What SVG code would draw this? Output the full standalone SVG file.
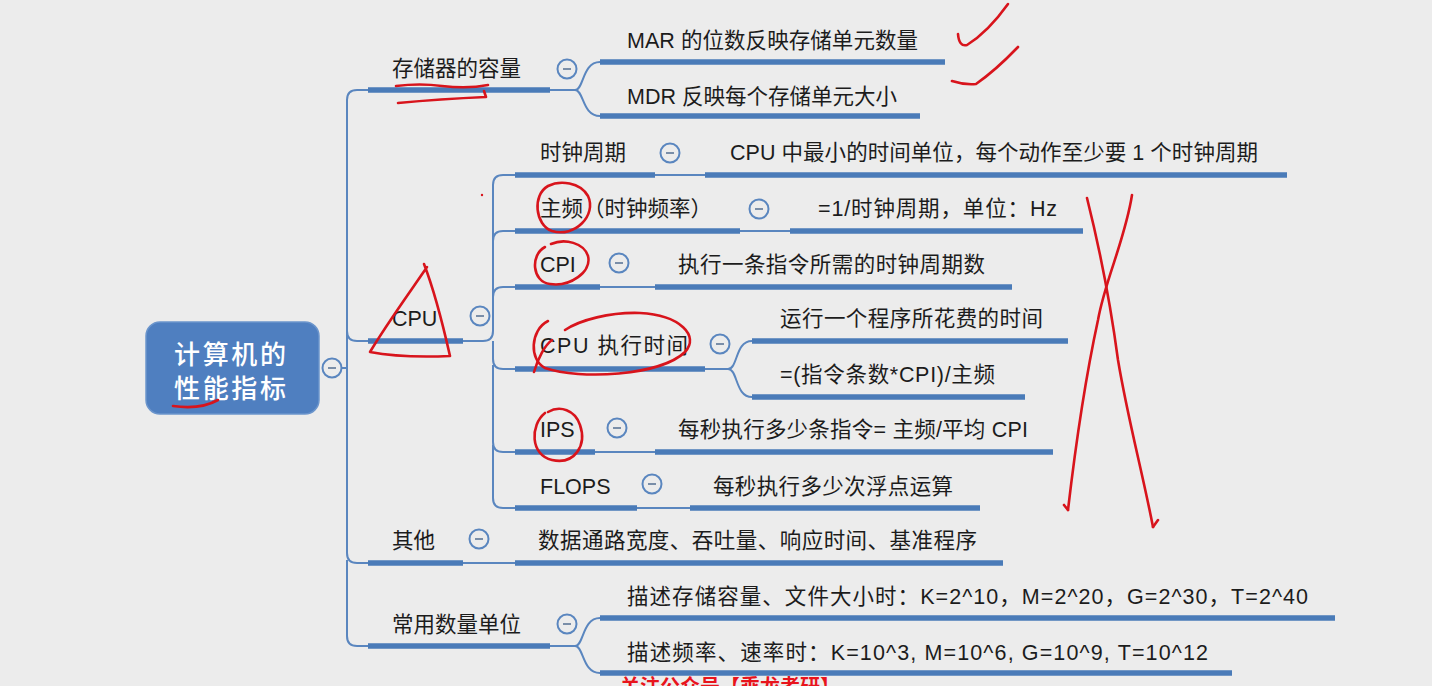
<svg xmlns="http://www.w3.org/2000/svg" width="1432" height="686" viewBox="0 0 1432 686">
<defs>
<style>
.t{font-family:"Liberation Sans","Noto Sans CJK SC",sans-serif;font-size:21.5px;fill:#1c1c1c;dominant-baseline:central}
.rt{font-family:"Noto Sans CJK SC","Liberation Sans",sans-serif;font-size:26px;fill:#ffffff;font-weight:500;dominant-baseline:central}
.ul{stroke:#4a7bb8;stroke-width:5.5;fill:none}
.cn{stroke:#5a86bf;stroke-width:2;fill:none}
.red{stroke:#d8141c;stroke-width:2.6;fill:none;stroke-linecap:round;stroke-linejoin:round}
</style>
<g id="minus"><circle r="9.5" fill="#ececec" stroke="#5a86bf" stroke-width="2"/><line x1="-4" y1="0" x2="4" y2="0" stroke="#7a8ea8" stroke-width="2"/></g>
</defs>
<rect width="1432" height="686" fill="#ececec"/>

<g id="connectors">
<path class="cn" d="M341 368 H347 V100 Q347 90 357 90 H368"/>
<path class="cn" d="M347 331 Q347 341 357 341 H368"/>
<path class="cn" d="M347 368 V553 Q347 563 357 563 H368"/>
<path class="cn" d="M347 560 V636 Q347 646 357 646 H368"/>
<path class="cn" d="M550 90 H575 C584 90 582 62 600 62"/>
<path class="cn" d="M575 90 C584 90 582 116 600 116"/>
<path class="cn" d="M463 341 H483 Q493 341 493 331 V185 Q493 175 503 175 H515"/>
<path class="cn" d="M493 241 Q493 231 503 231 H515"/>
<path class="cn" d="M493 297 Q493 287 503 287 H515"/>
<path class="cn" d="M493 341 V359 Q493 369 503 369 H515"/>
<path class="cn" d="M493 365 V442 Q493 452 503 452 H515"/>
<path class="cn" d="M493 445 V498 Q493 508 503 508 H515"/>
<path class="cn" d="M655 175 H705"/>
<path class="cn" d="M740 231 H790"/>
<path class="cn" d="M600 287 H655"/>
<path class="cn" d="M705 369 H728 C738 369 735 341 752 341"/>
<path class="cn" d="M728 369 C738 369 735 397 752 397"/>
<path class="cn" d="M595 452 H655"/>
<path class="cn" d="M637 508 H690"/>
<path class="cn" d="M463 563 H515"/>
<path class="cn" d="M550 646 H575 C584 646 582 618 600 618"/>
<path class="cn" d="M575 646 C584 646 582 673 600 673"/>
</g>

<g id="root">
<rect x="146" y="322" width="173" height="92" rx="14" fill="#4f7fc0" stroke="#6b95cc" stroke-width="1.5"/>
<text class="rt" x="174" y="352" textLength="112">计算机的</text>
<text class="rt" x="174" y="386" textLength="112">性能指标</text>
<use href="#minus" x="332" y="368"/>
</g>

<g id="n-storage">
<line class="ul" x1="368" y1="90" x2="550" y2="90"/>
<text class="t" x="392" y="69">存储器的容量</text>
<use href="#minus" x="567" y="69"/>
</g>
<g id="n-mar">
<line class="ul" x1="600" y1="62" x2="945" y2="62"/>
<text class="t" x="627" y="41" textLength="291">MAR 的位数反映存储单元数量</text>
</g>
<g id="n-mdr">
<line class="ul" x1="600" y1="116" x2="920" y2="116"/>
<text class="t" x="627" y="97" textLength="270">MDR 反映每个存储单元大小</text>
</g>

<g id="n-cpu">
<line class="ul" x1="368" y1="341" x2="463" y2="341"/>
<text class="t" x="392" y="319">CPU</text>
<use href="#minus" x="480" y="316"/>
</g>
<g id="n-clock">
<line class="ul" x1="515" y1="175" x2="655" y2="175"/>
<text class="t" x="540" y="153">时钟周期</text>
<use href="#minus" x="670" y="153"/>
</g>
<g id="n-clock-d">
<line class="ul" x1="705" y1="175" x2="1287" y2="175"/>
<text class="t" x="730" y="153" textLength="528">CPU 中最小的时间单位，每个动作至少要 1 个时钟周期</text>
</g>
<g id="n-freq">
<line class="ul" x1="515" y1="231" x2="740" y2="231"/>
<text class="t" x="540" y="209">主频（时钟频率）</text>
<use href="#minus" x="759" y="209"/>
</g>
<g id="n-freq-d">
<line class="ul" x1="790" y1="231" x2="1083" y2="231"/>
<text class="t" x="818" y="209" textLength="239">=1/时钟周期，单位：Hz</text>
</g>
<g id="n-cpi">
<line class="ul" x1="515" y1="287" x2="600" y2="287"/>
<text class="t" x="540" y="265">CPI</text>
<use href="#minus" x="619" y="263"/>
</g>
<g id="n-cpi-d">
<line class="ul" x1="655" y1="287" x2="1012" y2="287"/>
<text class="t" x="678" y="265" textLength="307">执行一条指令所需的时钟周期数</text>
</g>
<g id="n-time">
<line class="ul" x1="515" y1="369" x2="705" y2="369"/>
<text class="t" x="540" y="346" textLength="148">CPU 执行时间</text>
<use href="#minus" x="720" y="344"/>
</g>
<g id="n-time-a">
<line class="ul" x1="752" y1="341" x2="1068" y2="341"/>
<text class="t" x="780" y="319" textLength="263">运行一个程序所花费的时间</text>
</g>
<g id="n-time-b">
<line class="ul" x1="752" y1="397" x2="1025" y2="397"/>
<text class="t" x="780" y="375" textLength="215">=(指令条数*CPI)/主频</text>
</g>
<g id="n-ips">
<line class="ul" x1="515" y1="452" x2="595" y2="452"/>
<text class="t" x="540" y="430">IPS</text>
<use href="#minus" x="617" y="428"/>
</g>
<g id="n-ips-d">
<line class="ul" x1="655" y1="452" x2="1053" y2="452"/>
<text class="t" x="678" y="430" textLength="350">每秒执行多少条指令= 主频/平均 CPI</text>
</g>
<g id="n-flops">
<line class="ul" x1="515" y1="508" x2="637" y2="508"/>
<text class="t" x="540" y="487">FLOPS</text>
<use href="#minus" x="652" y="484"/>
</g>
<g id="n-flops-d">
<line class="ul" x1="690" y1="508" x2="980" y2="508"/>
<text class="t" x="713" y="487" textLength="240">每秒执行多少次浮点运算</text>
</g>

<g id="n-other">
<line class="ul" x1="368" y1="563" x2="463" y2="563"/>
<text class="t" x="392" y="541">其他</text>
<use href="#minus" x="479" y="539"/>
</g>
<g id="n-other-d">
<line class="ul" x1="515" y1="563" x2="1003" y2="563"/>
<text class="t" x="538" y="541" textLength="439">数据通路宽度、吞吐量、响应时间、基准程序</text>
</g>

<g id="n-units">
<line class="ul" x1="368" y1="646" x2="550" y2="646"/>
<text class="t" x="392" y="625">常用数量单位</text>
<use href="#minus" x="567" y="624"/>
</g>
<g id="n-units-a">
<line class="ul" x1="600" y1="618" x2="1335" y2="618"/>
<text class="t" x="627" y="597" textLength="681">描述存储容量、文件大小时：K=2^10，M=2^20，G=2^30，T=2^40</text>
</g>
<g id="n-units-b">
<line class="ul" x1="600" y1="673" x2="1232" y2="673"/>
<text class="t" x="627" y="653" textLength="581">描述频率、速率时：K=10^3, M=10^6, G=10^9, T=10^12</text>
</g>

<text x="620" y="694" font-family="Noto Sans CJK SC,sans-serif" font-size="20" font-weight="bold" fill="#e8141c">关注公众号【乘龙考研】</text>

<g id="annotations">
<path class="red" d="M958 34 Q959 47 967 45 Q988 32 1008 4"/>
<path class="red" d="M952 81 Q964 85 976 84 Q996 70 1018 47"/>
<path class="red" d="M396 86 Q420 83 442 86 Q468 89 488 85"/>
<path class="red" d="M398 103 Q440 99 486 97 L484 91"/>
<path class="red" d="M173 406 Q200 410 218 400"/>
<path class="red" d="M427 267 C410 292 386 325 370 352 C396 357 426 357 450 356 C443 325 436 295 424 264"/>
<path class="red" d="M548 186 C532 195 535 225 552 231 C575 238 597 215 588 196 C580 182 560 180 548 186"/>
<path class="red" d="M545 247 C530 255 532 282 550 284 C570 287 592 272 588 256 C584 243 565 238 551 244"/>
<path class="red" d="M548 321 C530 330 529 360 545 368 C580 380 660 376 685 352 C700 336 680 315 640 313 C610 312 580 320 565 330"/>
<path class="red" d="M534 372 C538 358 545 345 552 340"/>
<path class="red" d="M545 413 C530 425 530 455 552 460 C575 465 587 445 580 425 C575 410 560 405 548 412"/>
<path class="red" d="M1087 198 C1100 250 1110 300 1118 360 C1128 420 1142 470 1153 527"/>
<path class="red" d="M1132 195 C1125 240 1105 280 1098 320 C1085 380 1075 450 1068 510"/>
<path class="red" d="M1068 510 L1064 505 M1153 527 L1158 520"/>
<circle cx="482" cy="195" r="1.2" fill="#d8141c"/>
</g>
</svg>
